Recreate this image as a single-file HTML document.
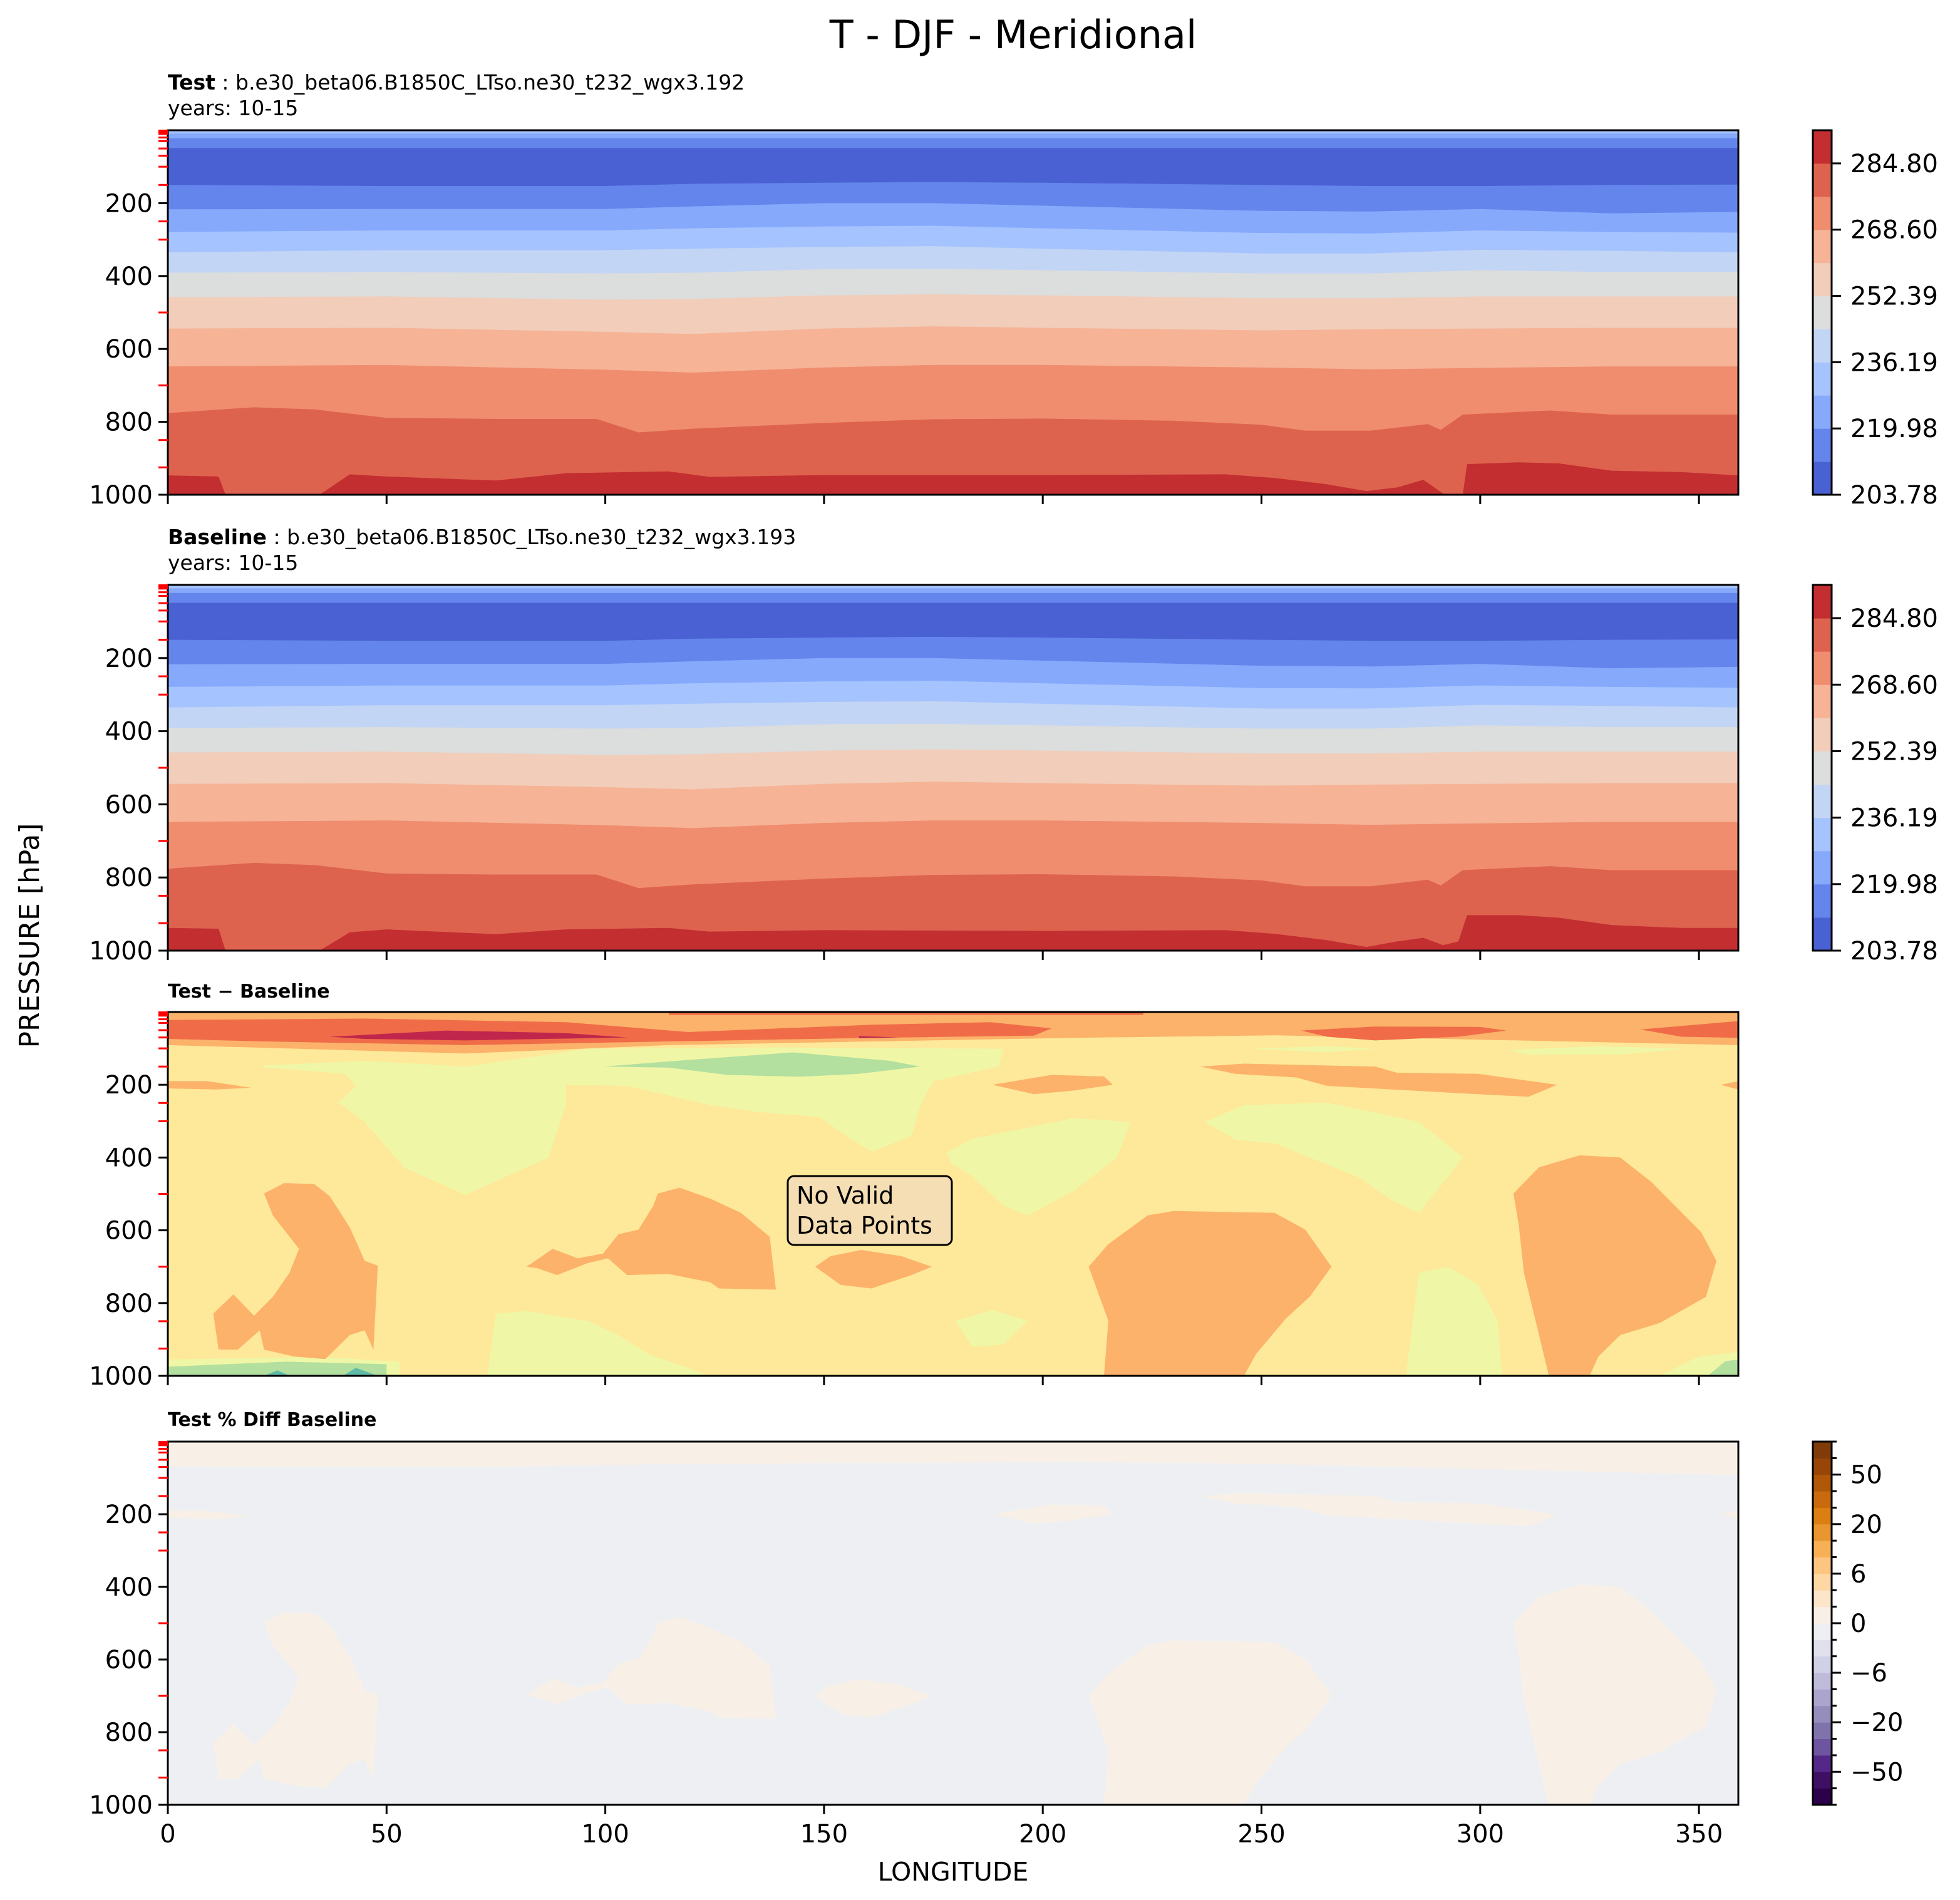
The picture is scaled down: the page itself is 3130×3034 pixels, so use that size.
<!DOCTYPE html>
<html><head><meta charset="utf-8"><style>html,body{margin:0;padding:0;background:#fff}svg{display:block}text{font-family:"DejaVu Sans","Liberation Sans",sans-serif}</style></head>
<body>
<svg id="fig" width="3130" height="3034" viewBox="0 0 3130 3034" xmlns="http://www.w3.org/2000/svg">
<rect x="0" y="0" width="3130" height="3034" fill="#fff"/>
<text x="1618" y="77" font-size="62" text-anchor="middle">T - DJF - Meridional</text>
<text x="268" y="143" font-size="33"><tspan font-weight="bold">Test</tspan> : b.e30_beta06.B1850C_LTso.ne30_t232_wgx3.192</text>
<text x="268" y="184" font-size="33">years: 10-15</text>
<text x="268" y="869" font-size="33"><tspan font-weight="bold">Baseline</tspan> : b.e30_beta06.B1850C_LTso.ne30_t232_wgx3.193</text>
<text x="268" y="910" font-size="33">years: 10-15</text>
<text x="268" y="1593" font-size="30" font-weight="bold">Test − Baseline</text>
<text x="268" y="2277" font-size="30" font-weight="bold">Test % Diff Baseline</text>
<text x="0" y="0" font-size="44" text-anchor="middle" transform="translate(62,1494) rotate(-90)">PRESSURE [hPa]</text>
<text x="1522" y="3003" font-size="41" text-anchor="middle">LONGITUDE</text>
<g id="layer"></g>
</svg>
<script>
// ---- data ----
const xTicks=[0,50,100,150,200,250,300,350];
const yTicks=[200,400,600,800,1000];
const levelTicks=[1,2,3,5,7,10,20,30,50,70,100,150,250,300,500,700,850,925];
const tempLevels=[203.78,211.88,219.98,228.09,236.19,244.29,252.39,260.5,268.6,276.7,284.8,292.9];
const tempTickLabels=["203.78","219.98","236.19","252.39","268.60","284.80"];
const tempColors=["#4961d2","#6485ec","#86a9fc","#a5c3fe","#c3d5f4","#dcdddd","#f1cdba","#f6b396","#f08d6f","#de634e","#c32e31"];
const pctColors=["#2d004b","#3f0f64","#542788","#6d55a0","#8073ac","#958ebd","#aba4cc","#bfbbdb","#d0d0e6","#e1e1ee","#eeeff3","#f8f0e6","#fde5c9","#fdd8a5","#fdc57f","#f8b056","#ea9630","#da7f12","#c86a0d","#b05808","#974608","#7f3b08"];
const pctTickLabels=["−50","−20","−6","0","6","20","50"];
const pctTickIdx=[2,5,8,11,14,17,20];
const bLonFlat=[0,359];
const b00=[9,9];
const b0=[22,22];
const b1=[49,49];
const bLon=[0,50,100,120,150,175,200,250,275,300,330,359];
const b2=[150,153,153,147,144,142,144,150,153,153,150,149];
const b3=[217,216,216,209,200,200,207,221,223,216,228,224];
const b4=[279,275,275,269,264,262,269,282,283,275,279,281];
const b5=[335,329,329,325,320,318,325,338,338,328,331,335];
const b6=[391,389,393,391,381,380,384,393,393,384,389,389];
const b7=[458,456,465,463,453,450,453,461,461,456,456,456];
const b8=[544,542,553,559,544,538,542,549,546,544,542,542];
const b9=[648,644,657,665,651,644,644,651,656,652,648,648];
const b10Lon=[0,19.7,33.5,50,75,98,107.6,120,150,175,200,230,250,260,275,288,291,296,316,330,359];
const b10=[776,760,766,789,792,792,829,819,803,793,791,797,808,824,824,806,822,780,769,780,780];
const b11Lon=[0,11.6,13.2,34.7,41.6,50,75,91,114.5,123.8,150,200,241.7,253,264.8,274,281,287,291.5,296,297,308.8,318,330,346,359];
const b11=[947,950,1000,1000,944,950,961,941,936,951,946,946,944,954,971,990,980,959,997,1000,916,911,914,934,938,947];
const b11BaseLon=[0,11.6,13.2,34.7,41.6,50,75,91,114.5,123.8,150,200,241.7,253,264.8,274,281,287,291.5,295,297,308.8,318,330,346,359];
const b11Base=[938,940,1000,1000,950,942,955,942,938,948,944,946,944,954,971,990,975,965,985,975,903,903,910,930,938,938];
const dTopEdgeLon=[0,68,114.5,207,253,359];
const dTopEdge=[91,114,91,71,64,91];
const redMain=[[0,22],[45,18],[91,28],[119,55],[161,35],[188,28],[202,45],[198,65],[161,71],[114.5,81],[68,91],[22,81],[0,74]];
const redStrip=[[114.5,0],[223,0],[223,8],[114.5,8]];
const redRight1=[[259,51],[276,40],[300,41],[306,51],[295,68],[276,78],[265,68]];
const redRight2=[[336.6,48],[359,25],[359,71],[346,68]];
const crimson1=[[37,68],[63.6,51],[91,58],[105,70],[68,78],[45,74]];
const crimson2=[[158,66],[167,70],[158,72]];
const paleA=[[22,147],[45,134],[68,150],[96,101],[137.6,97.5],[191,101],[190,150],[175,190],[172,256],[170,341],[161,384],[156,348],[149,289],[135,275],[124,256],[105,203],[91,200],[91,256],[87,400],[68,503],[54,427],[45,302],[39,249],[43,203],[40.5,170],[33.5,163],[22,153]];
const greenB=[[99.5,150],[121,130],[143,111],[165,134],[172,150],[158,170],[144.6,178],[128,173],[114.5,153]];
const paleC=[[178,387],[184,348],[207,292],[220,302],[217,400],[207,493],[196.6,559],[191,532],[184,453],[179,414]];
const paleD=[[237,302],[246,256],[265,249],[286,302],[296,400],[290,493],[286,552],[280,519],[272,453],[253,361],[244,351]];
const paleE1=[[247.5,101],[265,94],[276,101],[265,111]];
const paleE2=[[306.5,104],[327,94],[347,101],[332,117],[311,117]];
const paleF1=[[73,1000],[75,829],[82,822],[96,849],[103,888],[110,941],[124,1000]];
const paleF2=[[180,849],[188.5,819],[196.6,849],[191,914],[184,921]];
const paleF3=[[283,1000],[286,717],[292.6,700],[299.6,750],[304,849],[305,1000]];
const paleF4=[[0,955],[35,948],[53,961],[53,1000],[0,1000]];
const paleF5=[[341,1000],[350,947],[359,934],[359,1000]];
const greenG=[[0,975],[27,961],[50,968],[50,1000],[0,1000]];
const greenG2=[[352,1000],[356,960],[359,955],[359,1000]];
const teal1=[[22,1000],[25,985],[28,1000]];
const teal2=[[40,1000],[43,978],[48,1000]];
const orO1=[[22,499],[26.6,470],[33.5,473],[37,506],[41.6,592],[45,684],[48,697],[47,928],[45,875],[41.6,888],[36,954],[29,947],[22,928],[21,875],[16,928],[11.6,928],[10.4,829],[15,776],[19.7,835],[24,783],[27.8,717],[30,651],[24,559]];
const orO2=[[112,499],[117,483],[124,513],[131,552],[137.6,618],[139,763],[126,760],[124,743],[114.5,720],[105,723],[100.6,677],[96,690],[89,723],[84.4,704],[82,700],[88,651],[93.7,677],[99.5,664],[103,611],[107.6,598],[111,532]];
const orO3=[[148,700],[151.5,671],[158.5,654],[167.7,671],[174.6,700],[170,723],[160.8,760],[153.8,750]];
const orO4=[[210.5,700],[215,638],[224,559],[230,547],[253,552],[260,598],[266,700],[261,783],[255.6,842],[248.7,941],[246,1000],[214,1000],[215,849]];
const orO5=[[307.6,499],[313.4,427],[322.7,394],[332,400],[339,466],[350.5,605],[354,684],[351.6,783],[341,855],[332,888],[327,947],[325,1000],[315.7,1000],[310,717],[308.8,585]];
const orO6=[[188.5,200],[202,173],[214,177],[216,200],[207,216],[198,226]];
const orO7=[[236,150],[246,142],[276,150],[281,167],[299.6,170],[317.6,200],[311,233],[295,223],[265,203],[258,180],[244,170]];
const orO8=[[0,190],[9,190],[19,208],[11,213],[0,210]];
const orO9=[[355,200],[359,190],[359,213]];
const pTopEdgeLon=[0,68,114,207,253,359];
const pTopEdge=[68,70,62,56,62,92];

// ---- drawing ----
const NS="http://www.w3.org/2000/svg";
const layer=document.getElementById('layer');
const X0=268,X1=2776,LONMAX=359;
function el(tag,attrs,parent){const e=document.createElementNS(NS,tag);for(const k in attrs)e.setAttribute(k,attrs[k]);(parent||layer).appendChild(e);return e;}
function makeAxes(top,bot){return {x:l=>X0+(l/LONMAX)*(X1-X0),y:p=>top+(p/1000)*(bot-top),top,bot};}
let clipN=0;
function panelGroup(ax,name){
  clipN++;
  const cp=el('clipPath',{id:'cp'+clipN});
  el('rect',{x:X0,y:ax.top,width:X1-X0,height:ax.bot-ax.top},cp);
  const g=el('g',{'clip-path':'url(#cp'+clipN+')'});
  
  
  return g;
}
function boundaryFill(ax,g,lons,ps,color,name){
  let pts=lons.map((l,i)=>ax.x(l)+','+ax.y(ps[i]));
  pts.push(ax.x(LONMAX)+','+ax.y(1000),ax.x(0)+','+ax.y(1000));
  const pg=el('polygon',{points:pts.join(' '),fill:color},g);
  
  
}
function topFill(ax,g,lons,ps,color,name){
  let pts=[ax.x(0)+','+ax.y(0)];
  lons.forEach((l,i)=>pts.push(ax.x(l)+','+ax.y(ps[i])));
  pts.push(ax.x(LONMAX)+','+ax.y(0));
  const pg=el('polygon',{points:pts.join(' '),fill:color},g);
  
  
}
function region(ax,g,arr,color,name){
  const pg=el('polygon',{points:arr.map(a=>ax.x(a[0])+','+ax.y(a[1])).join(' '),fill:color},g);
  
  
}
function frame(ax,showXLabels,prefix){
  const r=el('rect',{x:X0,y:ax.top,width:X1-X0,height:ax.bot-ax.top,fill:'none',stroke:'#000','stroke-width':3});
  
  
  levelTicks.forEach(p=>{const t=el('line',{x1:X0-15,x2:X0,y1:ax.y(p),y2:ax.y(p),stroke:'#f00','stroke-width':3});
    
    });
  yTicks.forEach(p=>{const t=el('line',{x1:X0-15,x2:X0,y1:ax.y(p),y2:ax.y(p),stroke:'#000','stroke-width':3});
    
    
    const tx=el('text',{x:X0-24,y:ax.y(p)+14,'font-size':40,'text-anchor':'end'});tx.textContent=p;
    
    });
  xTicks.forEach(l=>{const t=el('line',{x1:ax.x(l),x2:ax.x(l),y1:ax.bot,y2:ax.bot+15,stroke:'#000','stroke-width':3});
    
    
    if(showXLabels){const tx=el('text',{x:ax.x(l),y:ax.bot+60,'font-size':40,'text-anchor':'middle'});tx.textContent=l;
      
      }});
}
function tempPanel(top,bot,prefix,b11L,b11V){
  const ax=makeAxes(top,bot);
  const g=panelGroup(ax,prefix+'-contour');
  const r=el('rect',{x:X0,y:top,width:X1-X0,height:bot-top,fill:tempColors[3]},g);
  
  
  const bs=[[bLonFlat,b00,2],[bLonFlat,b0,1],[bLonFlat,b1,0],[bLon,b2,1],[bLon,b3,2],[bLon,b4,3],[bLon,b5,4],[bLon,b6,5],[bLon,b7,6],[bLon,b8,7],[bLon,b9,8],[b10Lon,b10,9],[b11L,b11V,10]];
  bs.forEach((b,i)=>boundaryFill(ax,g,b[0],b[1],tempColors[b[2]],prefix+'-band-'+i));
  frame(ax,false,prefix);
  const cx=2895,cw=30,n=tempColors.length,h=(bot-top)/n;
  tempColors.forEach((c,i)=>{const rr=el('rect',{x:cx,y:bot-(i+1)*h,width:cw,height:h+0.5,fill:c});
    
    });
  const cf=el('rect',{x:cx,y:top,width:cw,height:bot-top,fill:'none',stroke:'#000','stroke-width':3});
  
  
  tempTickLabels.forEach((lab,i)=>{const yy=bot-i*2*h;
    const t=el('line',{x1:cx+cw,x2:cx+cw+15,y1:yy,y2:yy,stroke:'#000','stroke-width':3});
    
    
    const tx=el('text',{x:2955,y:yy+14,'font-size':40});tx.textContent=lab;
    
    });
}
tempPanel(208,790,'test',b11Lon,b11);
tempPanel(934,1518,'baseline',b11BaseLon,b11Base);

(function(){
  const ax=makeAxes(1616,2197);
  const g=panelGroup(ax,'diff-contour');
  const bg=el('rect',{x:X0,y:ax.top,width:X1-X0,height:ax.bot-ax.top,fill:'#fee899'},g);
  
  
  const OR='#fcb26a',RED='#f06c48',CR='#c0264b',PG='#eff7a6',GR='#b3df9f',TE='#5fbaa8';
  topFill(ax,g,dTopEdgeLon,dTopEdge,OR,'diff-top-band');
  [[redMain,RED],[redStrip,RED],[redRight1,RED],[redRight2,RED],[crimson1,CR],[crimson2,CR],
   [paleA,PG],[greenB,GR],[paleC,PG],[paleD,PG],[paleE1,PG],[paleE2,PG],[paleF1,PG],[paleF2,PG],[paleF3,PG],[paleF4,PG],[paleF5,PG],[greenG,GR],[greenG2,GR],[teal1,TE],[teal2,TE],
   [orO1,OR],[orO2,OR],[orO3,OR],[orO4,OR],[orO5,OR],[orO6,OR],[orO7,OR],[orO8,OR],[orO9,OR]].forEach((r,i)=>region(ax,g,r[0],r[1],'diff-region-'+i));
  frame(ax,false,'diff');
  const box=el('rect',{x:1258,y:1878,width:262,height:110,rx:10,fill:'#f5deb3',stroke:'#000','stroke-width':3});
  
  
  const t1=el('text',{x:1272,y:1922,'font-size':38});t1.textContent='No Valid';
  
  
  const t2=el('text',{x:1272,y:1970,'font-size':38});t2.textContent='Data Points';
  
  
})();

(function(){
  const ax=makeAxes(2302,2882);
  const g=panelGroup(ax,'pctdiff-contour');
  const bg=el('rect',{x:X0,y:ax.top,width:X1-X0,height:ax.bot-ax.top,fill:'#eeeff3'},g);
  
  
  const CRM='#f8f0e6';
  topFill(ax,g,pTopEdgeLon,pTopEdge,CRM,'pctdiff-top-band');
  [orO1,orO2,orO3,orO4,orO5,orO6,orO7,orO8,orO9].forEach((r,i)=>region(ax,g,r,CRM,'pctdiff-region-'+i));
  frame(ax,true,'pctdiff');
  const cx=2895,cw=30,n=pctColors.length,h=(ax.bot-ax.top)/n;
  pctColors.forEach((c,i)=>{const rr=el('rect',{x:cx,y:ax.bot-(i+1)*h,width:cw,height:h+0.5,fill:c});
    
    });
  const cf=el('rect',{x:cx,y:ax.top,width:cw,height:ax.bot-ax.top,fill:'none',stroke:'#000','stroke-width':3});
  
  
  for(let i=0;i<=n;i++){const yy=ax.bot-i*h;const major=pctTickIdx.indexOf(i)>=0;
    const t=el('line',{x1:cx+cw,x2:cx+cw+(major?15:8),y1:yy,y2:yy,stroke:'#000','stroke-width':3});
    
    }
  pctTickLabels.forEach((lab,k)=>{const yy=ax.bot-pctTickIdx[k]*h;
    const tx=el('text',{x:2955,y:yy+14,'font-size':40});tx.textContent=lab;
    
    });
})();
</script>
</body></html>
